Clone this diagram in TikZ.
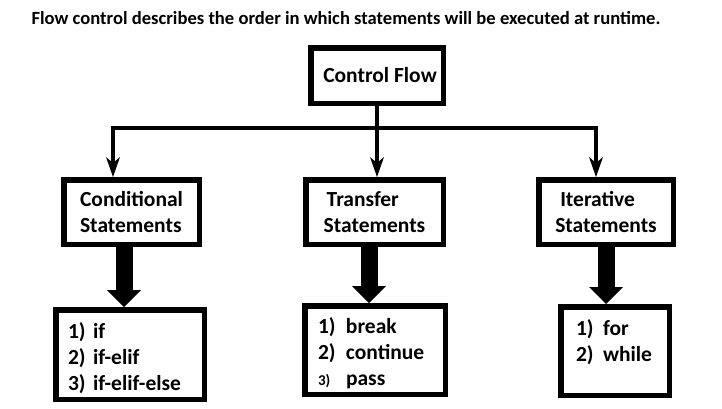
\documentclass[tikz,border=0pt]{standalone}
\usepackage{fontspec}
\setmainfont{Carlito}
\usetikzlibrary{arrows.meta,calc}
\newcommand{\numitem}[3][26pt]{\makebox[#1][l]{#2}#3}
\begin{document}
\begin{tikzpicture}[x=1pt,y=-1pt,
  box/.style={draw=black,line width=5.5pt,fill=white,inner sep=0pt,align=left,
    font=\bfseries\fontsize{21.5}{26}\selectfont},
  listbox/.style={box,inner ysep=0pt,text height=20pt},
  conn/.style={line width=4pt,-{Stealth[length=20pt,width=14pt,inset=6pt,line width=0pt]}},
  fat/.style={line width=17pt,-{Triangle[length=17pt,width=34pt,line width=0pt]}}]
\useasboundingbox[fill=white] (0,0) rectangle (722,408);
\node[font=\bfseries\fontsize{18.6}{22}\selectfont] (title) at (346,18)
  {Flow control describes the order in which statements will be executed at runtime.};
\node[box,minimum width=132.5pt,minimum height=55.5pt] (cf) at (377,75.5) {\hspace{6pt}Control Flow};
\node[box,minimum width=135.5pt,minimum height=64.5pt] (cond) at (131.5,212)
  {Conditional\\Statements};
\node[box,minimum width=137.5pt,minimum height=64.5pt] (trans) at (374.5,212)
  {\hspace{3pt}Transfer\\Statements};
\node[box,minimum width=134.5pt,minimum height=64.5pt] (iter) at (606,212)
  {\hspace{5pt}Iterative\\Statements};
\node[listbox,minimum width=148.5pt,minimum height=89.5pt,inner xsep=12.25pt,
  text width=124pt,text depth=53pt] (condl) at (130,354.5)
  {\numitem[25pt]{1)}{if}\\\numitem[25pt]{2)}{if-elif}\\\numitem[25pt]{3)}{if-elif-else}};
\node[listbox,minimum width=140.5pt,minimum height=88.5pt,inner xsep=13.25pt,
  text width=114pt,text depth=54pt] (transl) at (375,350)
  {\numitem[28pt]{1)}{break}\\\numitem[28pt]{2)}{continue}\\\numitem[28pt]{\fontsize{15}{26}\selectfont 3)}{pass}};
\node[listbox,minimum width=108.5pt,minimum height=88.5pt,inner xsep=15.25pt,
  text width=78pt,text depth=52pt] (iterl) at (615,351)
  {\numitem[27pt]{1)}{for}\\\numitem[27pt]{2)}{while}};
\coordinate (hub) at (377,128);
\coordinate (jl) at (113,128);
\coordinate (jr) at (596,128);
\draw[line width=4pt] (cf.south) -- (hub);
\draw[conn] (hub) -| (jl |- cond.north);
\draw[conn] (hub) -| (jr |- iter.north);
\draw[conn] (hub) -- (hub |- trans.north);
\draw[fat] ([xshift=-7.5pt]cond.south) -- ([xshift=-7.5pt]cond.south |- condl.north);
\draw[fat] ([xshift=-5.5pt]trans.south) -- ([xshift=-5.5pt]trans.south |- transl.north);
\draw[fat] (iter.south) -- (iter.south |- iterl.north);
\end{tikzpicture}
\end{document}
